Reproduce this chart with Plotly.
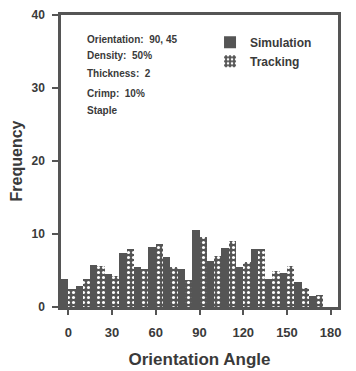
import plotly.graph_objects as go

angles = [0, 10, 20, 30, 40, 50, 60, 70, 80, 90, 100, 110, 120, 130, 140, 150, 160, 170, 180]
simulation = [3.9, 2.9, 5.8, 4.5, 7.4, 5.5, 8.2, 6.8, 5.2, 10.6, 6.3, 8.1, 5.5, 7.9, 3.8, 4.7, 3.4, 1.5, 0]
tracking = [2.5, 3.8, 5.6, 4.2, 7.9, 5.2, 8.6, 5.5, 3.7, 9.6, 7.0, 9.0, 6.1, 8.0, 4.9, 5.6, 2.6, 1.6, 0]
x_ticks = [0, 30, 60, 90, 120, 150, 180]
y_ticks = [0, 10, 20, 30, 40]
info_lines = ["Orientation:  90, 45", "Density:  50%", "Thickness:  2", "Crimp:  10%", "Staple"]

DARK = "#555555"
TXT = "#3a3a3a"
FONT = "Liberation Sans"

fig = go.Figure()
fig.add_trace(go.Bar(x=angles, y=simulation, name="Simulation",
                     marker=dict(color=DARK, line=dict(width=0))))
fig.add_trace(go.Bar(x=angles, y=tracking, name="Tracking",
                     marker=dict(color=DARK, line=dict(width=0),
                                 pattern=dict(shape=".", bgcolor=DARK, fgcolor="white",
                                              size=5, solidity=0.3, fillmode="replace"))))

info_y = [0.917, 0.860, 0.798, 0.730, 0.672]
for txt, yy in zip(info_lines, info_y):
    fig.add_annotation(text=txt, xref="paper", yref="paper", x=0.087, y=yy,
                       xanchor="left", yanchor="middle", showarrow=False,
                       font=dict(family=FONT, size=10, color=TXT, weight="bold"))

fig.update_layout(
    width=348, height=363, autosize=False,
    margin=dict(l=53, r=18, t=7, b=64, pad=0, autoexpand=False),
    paper_bgcolor="white", plot_bgcolor="white",
    barmode="group", bargap=0, bargroupgap=0,
    font=dict(family=FONT, color=TXT),
    legend=dict(x=0.538, y=0.956, xanchor="left", yanchor="top",
                bgcolor="rgba(0,0,0,0)", tracegroupgap=0,
                font=dict(family=FONT, size=12, color=TXT, weight="bold")),
    xaxis=dict(range=[-5, 185], tickvals=x_ticks, ticks="outside", ticklen=5,
               tickwidth=1.5, tickcolor=DARK, showline=True, linecolor=DARK, linewidth=2.5,
               mirror=True, showgrid=False, zeroline=False, automargin=False,
               ticklabelstandoff=7, ticklabeloverflow="allow",
               tickfont=dict(family=FONT, size=13, color=TXT, weight="bold"),
               title=dict(text="Orientation Angle", standoff=14,
                          font=dict(family=FONT, size=17, color=TXT, weight="bold"))),
    yaxis=dict(range=[0, 40], tickvals=y_ticks, ticks="outside", ticklen=6,
               tickwidth=1.5, tickcolor=DARK, showline=True, linecolor=DARK, linewidth=2.5,
               mirror=True, showgrid=False, zeroline=False, automargin=False,
               ticklabelstandoff=5, ticklabeloverflow="allow",
               tickfont=dict(family=FONT, size=12, color=TXT, weight="bold"),
               title=dict(text="Frequency", standoff=12,
                          font=dict(family=FONT, size=16, color=TXT, weight="bold"))),
)

fig.write_html("out.html")
